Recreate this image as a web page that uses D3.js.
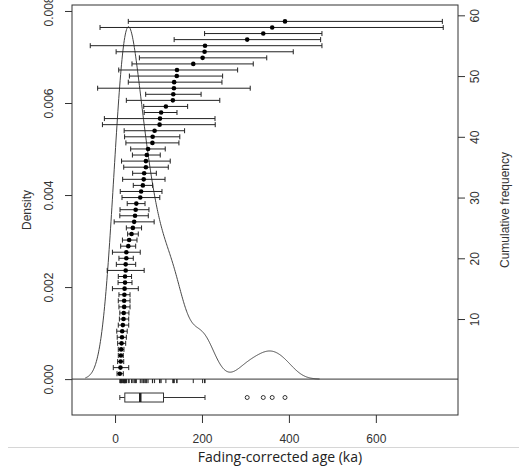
<!DOCTYPE html>
<html>
<head>
<meta charset="utf-8">
<script src="https://cdn.jsdelivr.net/npm/d3@7"></script>
<style>
  body { margin: 0; background: #fff; }
  svg { display: block; font-family: "Liberation Sans", Arial, sans-serif; }
</style>
</head>
<body>
<svg width="519" height="471"></svg>
<script>
// fading-corrected ages (ka), sorted, one per cumulative count
var ages = [11, 12.5, 13, 13.5, 14, 15, 16, 16.5, 18, 19.5,
  20, 21, 21, 21.5, 22, 23, 23, 24.5, 24.5, 26,
  26, 30.5, 32.5, 38, 41, 44, 46, 47.5, 49, 58,
  60, 64, 66, 67, 71, 71, 73, 76, 86, 86.5,
  91, 102.5, 103.5, 106, 117, 133, 134, 135.5, 136, 142,
  142.5, 180, 201.5, 206, 207, 304, 341, 361.5, 391];
var lower = [4.6, -4, 6, 7.5, 7.5, 6, 5, 4, 7.5, 10,
  11, 9, 7.5, 9, -6, 7, 7.5, -18, 3, 9,
  -6, 13, 17, 29, 26, -2, 11, 11.5, 28, 16,
  12, 42, 17.5, 40.5, 20, 15, 40, 36, 25, 22,
  21, -29, -24.5, 67, 66, 26, 70.5, -40, 30.5, 33,
  8.5, 39, 56, 2.5, -57, 136, 206, -34.5, 30.5];
var upper = [19, 31.5, 20, 19, 20.5, 24.5, 26, 28, 31.5, 31.5,
  32, 34.5, 34.5, 34.5, 53.5, 39, 38, 67, 47.5, 42,
  58, 47.5, 50.5, 53.5, 61, 90, 76.5, 78, 69, 103,
  108, 86.5, 115, 95, 122.5, 127, 104, 115.5, 147, 149,
  160, 230.5, 230, 142.5, 167, 241, 198, 311, 246, 247.5,
  282, 318, 349, 410, 476, 473, 476, 755, 753];

var densityTicks = [0, 0.002, 0.004, 0.006, 0.008];
var freqTicks = [10, 20, 30, 40, 50, 60];
var ageTicks = [0, 200, 400, 600];

var svg = d3.select("svg");
var plot = { top: 5, right: 458, bottom: 415, left: 72 };
var boxAt = -0.0004;

// scales
var xScale = d3.scaleLinear().domain([-99, 789]).range([plot.left, plot.right]);
var yScale = d3.scaleLinear().domain([-0.00078, 0.00813]).range([plot.bottom, plot.top]);
var fScale = d3.scaleLinear().domain([-5.8, 61.7]).range([plot.bottom, plot.top]);

// gaussian kde, bandwidth like R's bw.nrd0
var sorted = ages.slice().sort(d3.ascending);
var iqr = d3.quantile(sorted, 0.75) - d3.quantile(sorted, 0.25);
var bw = 0.9 * Math.min(d3.deviation(sorted), iqr / 1.34) * Math.pow(sorted.length, -0.2);
var kdeFrom = d3.min(sorted) - 3 * bw, kdeTo = d3.max(sorted) + 3 * bw;
var grid = d3.range(512).map(i => kdeFrom + i * (kdeTo - kdeFrom) / 511);
var density = grid.map(x => [x, d3.sum(sorted, v => Math.exp(-0.5 * Math.pow((x - v) / bw, 2))) / (sorted.length * bw * Math.sqrt(2 * Math.PI))]);

// boxplot stats (tukey hinges)
var count = sorted.length;
var med = d3.median(sorted);
var half = Math.ceil(count / 2);
var q1 = d3.median(sorted.slice(0, half));
var q3 = d3.median(sorted.slice(count - half));
var reach = 1.5 * (q3 - q1);
var inside = sorted.filter(v => v >= q1 - reach && v <= q3 + reach);
var outliers = sorted.filter(v => v < q1 - reach || v > q3 + reach);

// density curve
svg.append("path")
  .attr("d", d3.line().x(d => xScale(d[0])).y(d => yScale(d[1]))(density))
  .attr("fill", "none")
  .attr("stroke", "#444")
  .attr("stroke-width", 1);

svg.append("line")
  .attr("x1", plot.left).attr("x2", plot.right)
  .attr("y1", yScale(0)).attr("y2", yScale(0))
  .attr("stroke", "#333");

// error bars
var rows = ages.map((a, i) => ({ age: a, lo: lower[i], hi: upper[i], k: i + 1 }));
var bars = svg.append("g").attr("stroke", "#222").attr("stroke-width", 1);
bars.selectAll(".bar")
  .data(rows)
  .enter().append("line")
    .attr("x1", d => xScale(d.lo)).attr("x2", d => xScale(d.hi))
    .attr("y1", d => fScale(d.k)).attr("y2", d => fScale(d.k));
bars.selectAll(".capl")
  .data(rows)
  .enter().append("line")
    .attr("x1", d => xScale(d.lo)).attr("x2", d => xScale(d.lo))
    .attr("y1", d => fScale(d.k) - 2.5).attr("y2", d => fScale(d.k) + 2.5);
bars.selectAll(".caph")
  .data(rows)
  .enter().append("line")
    .attr("x1", d => xScale(d.hi)).attr("x2", d => xScale(d.hi))
    .attr("y1", d => fScale(d.k) - 2.5).attr("y2", d => fScale(d.k) + 2.5);
svg.selectAll(".pt")
  .data(rows)
  .enter().append("circle")
    .attr("cx", d => xScale(d.age))
    .attr("cy", d => fScale(d.k))
    .attr("r", 2.3)
    .attr("fill", "#000");

// rug
svg.append("g").selectAll("line")
  .data(inside)
  .enter().append("line")
    .attr("x1", d => xScale(d)).attr("x2", d => xScale(d))
    .attr("y1", yScale(0)).attr("y2", yScale(0) + 4)
    .attr("stroke", "#222");

// boxplot
var by = yScale(boxAt);
var bp = svg.append("g").attr("stroke", "#333").attr("fill", "none");
bp.append("line").attr("x1", xScale(d3.min(inside))).attr("x2", xScale(q1)).attr("y1", by).attr("y2", by);
bp.append("line").attr("x1", xScale(q3)).attr("x2", xScale(d3.max(inside))).attr("y1", by).attr("y2", by);
[d3.min(inside), d3.max(inside)].forEach(v => {
  bp.append("line").attr("x1", xScale(v)).attr("x2", xScale(v)).attr("y1", by - 2.5).attr("y2", by + 2.5);
});
bp.append("rect")
  .attr("x", xScale(q1)).attr("y", by - 4.5)
  .attr("width", xScale(q3) - xScale(q1)).attr("height", 9)
  .attr("fill", "#fff");
bp.append("line")
  .attr("x1", xScale(med)).attr("x2", xScale(med))
  .attr("y1", by - 4.5).attr("y2", by + 4.5)
  .attr("stroke-width", 2.5).attr("stroke", "#222");
bp.selectAll("circle")
  .data(outliers)
  .enter().append("circle")
    .attr("cx", d => xScale(d)).attr("cy", by).attr("r", 2);

// frame
svg.append("rect")
  .attr("x", plot.left).attr("y", plot.top)
  .attr("width", plot.right - plot.left).attr("height", plot.bottom - plot.top)
  .attr("fill", "none").attr("stroke", "#333");

// axes
function styleAxis(g) {
  g.select(".domain").remove();
  g.selectAll(".tick line").attr("stroke", "#333");
  g.selectAll(".tick text").attr("fill", "#333").style("font-size", "12px")
    .style("font-family", "'Liberation Sans', Arial, sans-serif");
}

svg.append("g")
  .attr("transform", `translate(0, ${plot.bottom})`)
  .call(d3.axisBottom(xScale).tickValues(ageTicks).tickSize(8).tickFormat(d3.format("d")))
  .call(styleAxis)
  .call(g => g.selectAll(".tick text").attr("y", 24).attr("dy", "0.35em"));

svg.append("g")
  .attr("transform", `translate(${plot.left}, 0)`)
  .call(d3.axisLeft(yScale).tickValues(densityTicks).tickSize(7).tickFormat(d3.format(".3f")))
  .call(styleAxis)
  .call(g => g.selectAll(".tick text")
    .attr("transform", "rotate(-90)")
    .attr("x", 0).attr("y", -23).attr("dy", "0.35em")
    .attr("text-anchor", "middle"));

svg.append("g")
  .attr("transform", `translate(${plot.right}, 0)`)
  .call(d3.axisRight(fScale).tickValues(freqTicks).tickSize(7).tickFormat(d3.format("d")))
  .call(styleAxis)
  .call(g => g.selectAll(".tick text")
    .attr("transform", "rotate(-90)")
    .attr("x", 0).attr("y", 17).attr("dy", "0.35em")
    .attr("text-anchor", "middle"));

// axis titles
var midY = (plot.top + plot.bottom) / 2;
svg.append("text")
  .attr("transform", `translate(27, ${midY}) rotate(-90)`)
  .attr("dy", "0.35em")
  .attr("text-anchor", "middle")
  .attr("fill", "#333")
  .style("font-size", "12px")
  .text("Density");

svg.append("text")
  .attr("transform", `translate(505, ${midY}) rotate(-90)`)
  .attr("dy", "0.35em")
  .attr("text-anchor", "middle")
  .attr("fill", "#333")
  .style("font-size", "12px")
  .text("Cumulative frequency");

svg.append("line")
  .attr("x1", 8).attr("x2", 519)
  .attr("y1", 447.5).attr("y2", 447.5)
  .attr("stroke", "#d6d6d6");

svg.append("text")
  .attr("x", 280).attr("y", 462)
  .attr("text-anchor", "middle")
  .attr("fill", "#222")
  .style("font-family", "'Open Sans', 'Noto Sans', sans-serif")
  .style("font-size", "14px")
  .text("Fading-corrected age (ka)");
</script>
</body>
</html>
